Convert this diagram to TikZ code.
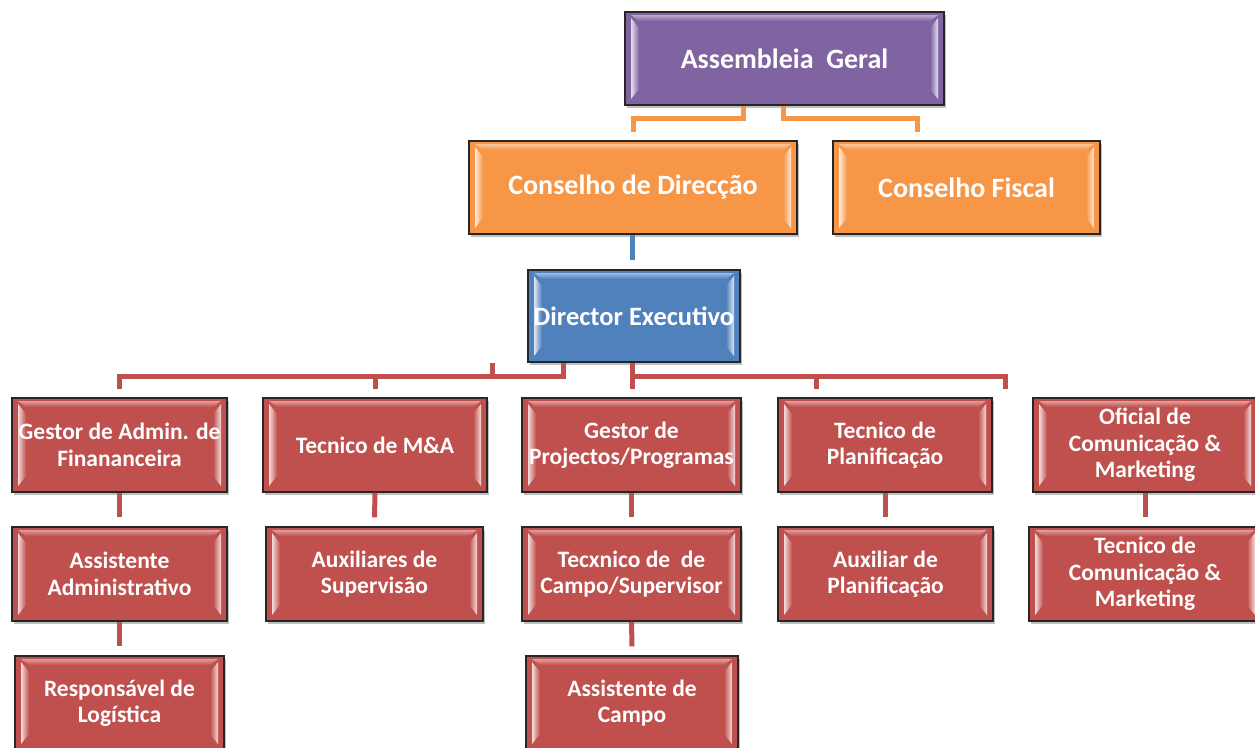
\documentclass[tikz,border=0pt]{standalone}
\usepackage{fontspec}
\setmainfont{Carlito}
\usetikzlibrary{calc,shadows}
\definecolor{cpurple}{HTML}{8064A2}
\definecolor{corange}{HTML}{F79646}
\definecolor{cblue}{HTML}{4F81BD}
\definecolor{cred}{HTML}{C0504D}
\tikzset{
  x=1pt, y=-1pt,
  box/.style={draw=black!85, line width=1.4pt, inner sep=1pt, align=center,
    text=white, font=\fontsize{23.5}{26.5}\selectfont\bfseries,
    general shadow={fill=black, opacity=0.25, shadow xshift=2pt, shadow yshift=-3pt},
    fill=#1,
    path picture={
      \coordinate (bnw) at (path picture bounding box.north west);
      \coordinate (bse) at (path picture bounding box.south east);
      \coordinate (bsw) at (bnw |- bse);
      \coordinate (bne) at (bse |- bnw);
      \shade[left color=#1!20!white, right color=#1]
        ($(bnw)+(6pt,-6pt)$) -- ($(bnw)+(14pt,-16pt)$) -- ($(bsw)+(14pt,16pt)$) -- ($(bsw)+(6pt,6pt)$) -- cycle;
      \shade[left color=#1, right color=#1!20!white]
        ($(bne)+(-6pt,-6pt)$) -- ($(bne)+(-14pt,-16pt)$) -- ($(bse)+(-14pt,16pt)$) -- ($(bse)+(-6pt,6pt)$) -- cycle;
      \shade[top color=#1!55!white, bottom color=#1]
        ($(bnw)+(6pt,-3pt)$) -- ($(bne)+(-6pt,-3pt)$) -- ($(bne)+(-14pt,-9pt)$) -- ($(bnw)+(14pt,-9pt)$) -- cycle;
    }},
  big/.style={font=\fontsize{28}{32}\selectfont\bfseries},
  mid/.style={font=\fontsize{26.5}{30}\selectfont\bfseries},
  oline/.style={draw=corange, line width=5pt},
  bline/.style={draw=cblue, line width=5pt},
  rline/.style={draw=cred, line width=5pt},
}
\begin{document}
\begin{tikzpicture}
\useasboundingbox (0,0) rectangle (1255,747);
% top
\node[box=cpurple, big, minimum width=319pt, minimum height=93pt] (AG) at (784.5,58.5) {Assembleia\ \ Geral};
\node[box=corange, big, minimum width=328pt, minimum height=93pt] (CD) at (633,187.5) {Conselho de Direcção};
\node[box=corange, big, minimum width=267pt, minimum height=93pt] (CF) at (966.5,187.5) {Conselho Fiscal};
\node[box=cblue, mid, minimum width=212pt, minimum height=92pt] (DE) at (634,316) {Director Executivo};
% row 1
\node[box=cred, minimum width=215pt, minimum height=94pt] (G1) at (119.5,445) {Gestor de Admin. de\\Finananceira};
\node[box=cred, minimum width=224pt, minimum height=94pt] (T1) at (375,445) {Tecnico de M\&A};
\node[box=cred, minimum width=219pt, minimum height=94pt] (P1) at (631.5,445) {Gestor de\\Projectos/Programas};
\node[box=cred, minimum width=214pt, minimum height=94pt] (TP) at (885,445) {Tecnico de\\Planificação};
\node[box=cred, minimum width=224pt, minimum height=94pt] (OF) at (1145,445) {Oficial de\\Comunicação \&\\Marketing};
% row 2
\node[box=cred, minimum width=215pt, minimum height=94pt] (AA) at (119.5,574) {Assistente\\Administrativo};
\node[box=cred, minimum width=217pt, minimum height=94pt] (AS) at (374.5,574) {Auxiliares de\\Supervisão};
\node[box=cred, minimum width=219pt, minimum height=94pt] (TC) at (631.5,574) {Tecxnico de\ \ de\\Campo/Supervisor};
\node[box=cred, minimum width=215pt, minimum height=94pt] (AP) at (885.5,574) {Auxiliar de\\Planificação};
\node[box=cred, minimum width=232pt, minimum height=94pt] (TM) at (1145,574) {Tecnico de\\Comunicação \&\\Marketing};
% row 3
\node[box=cred, minimum width=209pt, minimum height=94pt] (RL) at (119.5,703) {Responsável de\\Logística};
\node[box=cred, minimum width=212pt, minimum height=94pt] (AC) at (632,703) {Assistente de\\Campo};
% orange connectors
\coordinate (o1) at (743,118);
\coordinate (o2) at (633,132);
\coordinate (o3) at (783,118);
\coordinate (o4) at (917,132);
\draw[oline] (AG.south -| o1) -- (o1) -| (o2);
\draw[oline] (AG.south -| o3) -- (o3) -| (o4);
% blue connector
\coordinate (b1) at (632,260);
\draw[bline] (CD.south -| b1) -- (b1);
% red connectors
\coordinate (r1) at (563,376);
\coordinate (r2) at (119,389);
\coordinate (r3) at (375,389);
\coordinate (r4) at (492,376);
\coordinate (r5) at (632,376);
\coordinate (r6) at (816,389);
\coordinate (r7) at (1005,389);
\coordinate (r8) at (632,389);
\draw[rline] (DE.south -| r1) -- (r1) -| (r2);
\draw[rline] (r3) -- (r3 |- r1);
\draw[rline] (r4) -- (r4 |- DE.south);
\draw[rline] (DE.south -| r5) -- (r8);
\draw[rline] (r5) -| (r7);
\draw[rline] (r6) -- (r6 |- r5);
% row connectors
\draw[rline] (G1.south) -- ([yshift=9pt]AA.north);
\draw[rline] (T1.south) -- ([yshift=9pt]AS.north);
\draw[rline] (P1.south) -- ([yshift=9pt]TC.north);
\draw[rline] (TP.south -| AP.north) -- ([yshift=9pt]AP.north);
\draw[rline] (OF.south) -- ([yshift=9pt]TM.north);
\draw[rline] (AA.south) -- ([yshift=9pt]RL.north);
\draw[rline] (TC.south) -- ([yshift=9pt]AC.north);
\end{tikzpicture}
\end{document}
